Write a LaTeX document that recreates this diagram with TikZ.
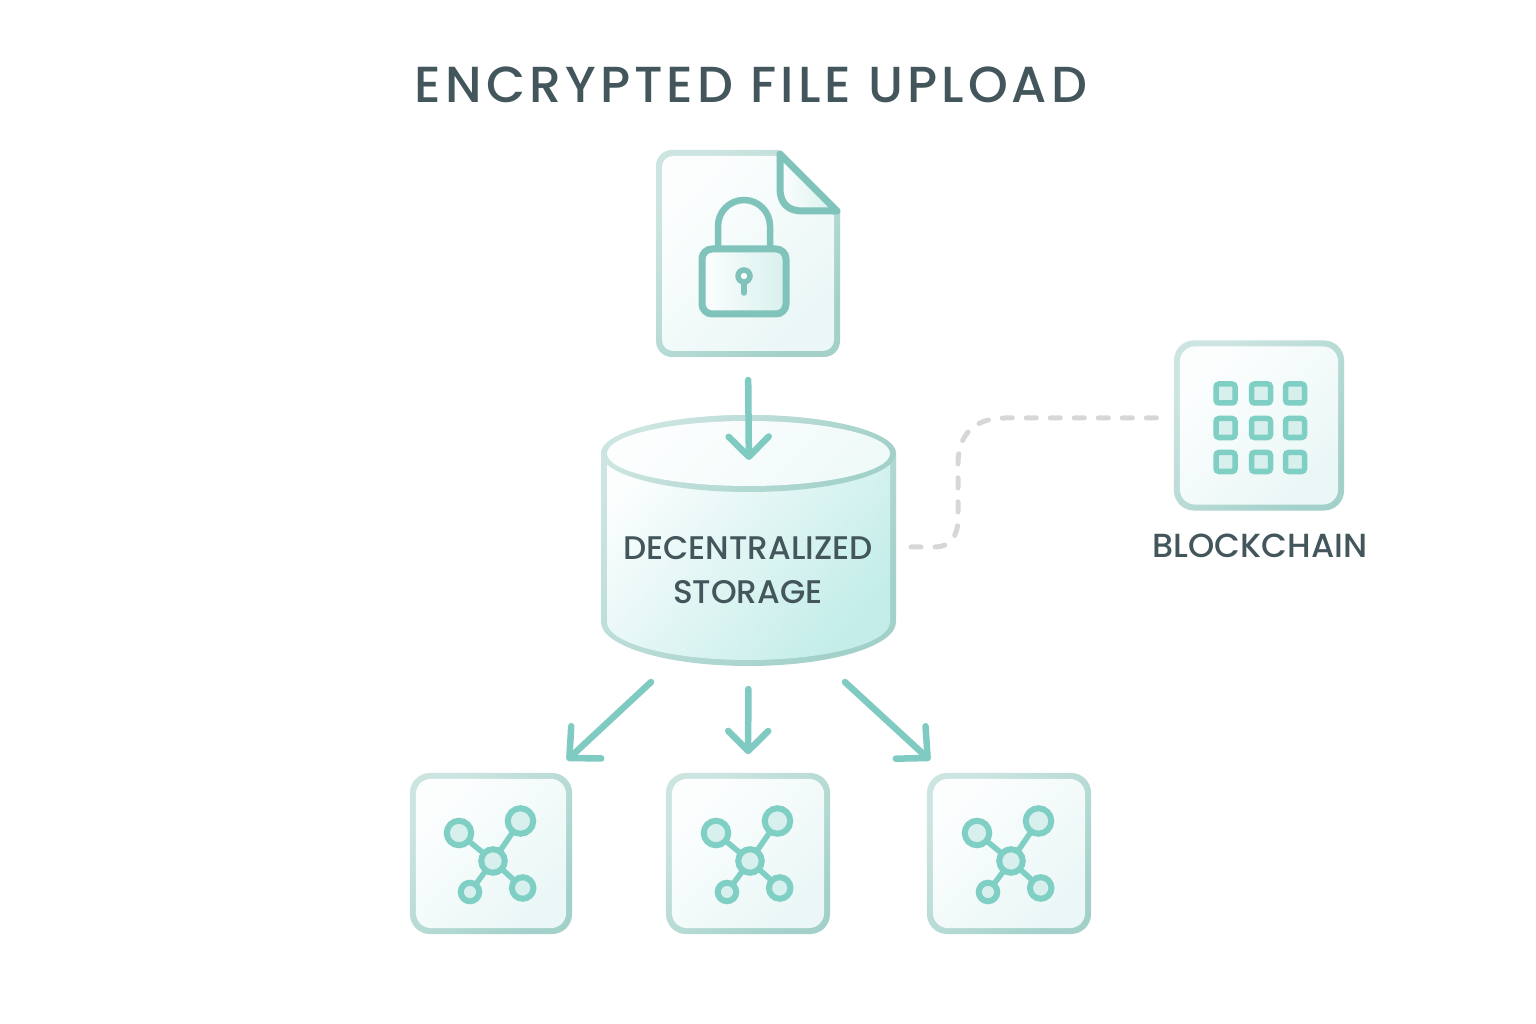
\documentclass[tikz,border=0pt]{standalone}
\usepackage{fontspec}
\setmainfont{Poppins Medium}
\newfontfamily\titlefont[LetterSpace=8]{Poppins Medium}
\usetikzlibrary{arrows.meta}

\definecolor{inkgrey}{HTML}{43565B}
\definecolor{ringlight}{HTML}{CDE5E1}
\definecolor{ringdark}{HTML}{A3D1CA}
\definecolor{panellight}{HTML}{FCFEFE}
\definecolor{paneldark}{HTML}{EAF7F6}
\definecolor{drummid}{HTML}{F0FAF9}
\definecolor{drumdark}{HTML}{C4EDE9}
\definecolor{lockline}{HTML}{80C3BB}
\definecolor{flowline}{HTML}{7FCBC2}
\definecolor{iconline}{HTML}{7FCFC4}
\definecolor{iconfill}{HTML}{D8F0ED}
\definecolor{dashgrey}{HTML}{D6D8D7}

\tikzset{
	ringshade/.style={left color=ringlight, right color=ringdark, shading angle=45},
	panelshade/.style={left color=panellight, right color=paneldark, shading angle=45},
	ringbox/.style={rectangle, rounded corners=0.2cm, ringshade, inner sep=0pt},
	panelbox/.style={rectangle, rounded corners=0.15cm, panelshade, inner sep=0pt},
	hidden/.style={rectangle, inner sep=0pt, outer sep=0pt},
	flow/.style={draw=flowline, line width=0.065cm, line cap=round, line join=round,
		-{Straight Barb[round, length=0.2cm, width=0.4cm]}},
	bigflow/.style={flow, -{Straight Barb[round, length=0.23cm, width=0.44cm]}},
	linkdash/.style={draw=dashgrey, line width=0.05cm, line cap=round, dash pattern=on 0.1cm off 0.14cm},
	peer/.style={circle, draw=iconline, fill=iconfill, line width=0.06cm, inner sep=0pt, outer sep=0pt},
	spoke/.style={draw=iconline, line width=0.055cm},
	cell/.style={rectangle, rounded corners=0.03cm, draw=iconline, fill=iconfill, line width=0.055cm,
		inner sep=0pt, minimum size=0.19cm},
	label/.style={text=inkgrey, align=center, font=\fontsize{9.3}{12.5}\selectfont}
}

\begin{document}
\begin{tikzpicture}[x=0.01cm, y=0.01cm]
	\useasboundingbox[fill=white] (0,0) rectangle (1536,1024);

	\node[text=inkgrey, font=\titlefont\fontsize{14.4}{18}\selectfont] (title) at (751,939) {ENCRYPTED FILE UPLOAD};

	\node[hidden, minimum width=1.84cm, minimum height=2.07cm] (file) at (748,770.5) {};
	\shade[ringshade, rounded corners=0.16cm] (656,667) -- (656,874) -- (700,874) [sharp corners] -- (778,874) -- (840,812) -- (840,760) [rounded corners=0.16cm] -- (840,667) -- cycle;
	\shade[panelshade, rounded corners=0.11cm] (662,673) -- (662,868) -- (700,868) [sharp corners] -- (776,868) -- (834,808) -- (834,760) [rounded corners=0.11cm] -- (834,673) -- cycle;
	\draw[draw=lockline, line width=0.07cm, line join=round, left color=panellight, right color=iconfill] (780,870) -- (780,835) .. controls (780,821) and (788,813) .. (802,813) -- (837,813) -- cycle;

	\draw[draw=lockline, line width=0.065cm] (718,775) -- (718,798) arc[start angle=180, end angle=0, radius=26] -- (770,775);
	\draw[draw=lockline, line width=0.07cm, rounded corners=0.1cm, left color=panellight, right color=iconfill] (702,710) rectangle (786,775);
	\draw[draw=lockline, line width=0.055cm, fill=panellight] (744,748) circle (6);
	\draw[draw=lockline, line width=0.055cm, line cap=round] (744,741) -- (744,731);

	\node[hidden, minimum width=2.95cm, minimum height=2.51cm] (drum) at (748.5,483.5) {};
	\shade[ringshade] (601,570.5) arc[start angle=180, end angle=0, x radius=147.5, y radius=38.5] -- (896,402) arc[start angle=0, end angle=-180, x radius=147.5, y radius=44] -- cycle;
	\shade[left color=panellight, middle color=drummid, right color=drumdark, shading angle=50] (607,570.5) arc[start angle=180, end angle=0, x radius=141.5, y radius=32.5] -- (890,402) arc[start angle=0, end angle=-180, x radius=141.5, y radius=38] -- cycle;
	\shade[ringshade] (748.5,570.5) ellipse [x radius=147.5, y radius=38.5];
	\shade[left color=panellight, right color=drummid, shading angle=45] (748.5,570.5) ellipse [x radius=141.5, y radius=32.5];
	\node[label] (drumlabel) at (748,454) {DECENTRALIZED\\STORAGE};

	\node[ringbox, minimum size=1.7cm] (chain) at (1259,598.5) {};
	\node[panelbox, minimum size=1.58cm] (chainpanel) at (chain) {};
	\foreach \i/\gx in {1/1225.5, 2/1261, 3/1295}
		\foreach \j/\gy in {1/630.5, 2/596, 3/562}
			\node[cell] (cell\i\j) at (\gx,\gy) {};
	\node[label, font=\fontsize{9.5}{12.5}\selectfont] (chainlabel) at (1260,478) {BLOCKCHAIN};

	\foreach \b/\cx/\w in {a/491/1.62cm, b/748/1.64cm, c/1009/1.64cm} {
		\node[ringbox, minimum width=\w, minimum height=1.61cm] (box\b) at (\cx,170.5) {};
		\node[panelbox, minimum width=\w-0.12cm, minimum height=1.49cm] (panel\b) at (box\b) {};
		\node[peer, minimum size=0.235cm] (hub\b) at (\cx+2,163) {};
		\node[peer, minimum size=0.245cm] (tl\b) at (\cx-32,191) {};
		\node[peer, minimum size=0.255cm] (tr\b) at (\cx+29.5,203) {};
		\node[peer, minimum size=0.185cm] (bl\b) at (\cx-21,132) {};
		\node[peer, minimum size=0.215cm] (br\b) at (\cx+31.7,136) {};
		\draw[spoke] (hub\b) -- (tl\b);
		\draw[spoke] (hub\b) -- (tr\b);
		\draw[spoke] (hub\b) -- (bl\b);
		\draw[spoke] (hub\b) -- (br\b);
	}

	\draw[flow, shorten <=0.23cm, shorten >=-0.45cm] (file.south) -- (drum.north);
	\coordinate (taila) at ([shift={(-97.5,-16)}]drum.south);
	\coordinate (heada) at ([shift={(76,12)}]boxa.north);
	\coordinate (tailc) at ([shift={(96.5,-16)}]drum.south);
	\coordinate (headc) at ([shift={(-79,12)}]boxc.north);
	\draw[bigflow] (taila) -- (heada);
	\draw[flow, shorten <=0.23cm, shorten >=0.18cm] (drum.south) -- (boxb.north);
	\draw[bigflow] (tailc) -- (headc);

	\coordinate (linktail) at ([shift={(15,-6.5)}]drum.east);
	\coordinate (linkhead) at ([shift={(-16,7.5)}]chain.west);
	\draw[linkdash] (linktail) -- (935,477) .. controls (950,477) and (958,488) .. (958,505) -- (958,560) .. controls (958,590) and (975,606) .. (1005,606) -- (linkhead);
\end{tikzpicture}
\end{document}
